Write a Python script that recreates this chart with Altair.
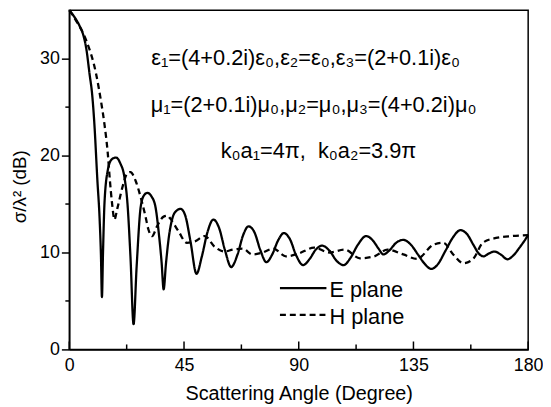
import altair as alt
import pandas as pd

# ---- data ----
series = ["E plane", "H plane"]

E_x = [0, 2, 4, 5.3, 6.8, 7.9, 9, 9.8, 11.0, 11.9, 12.4, 12.8, 13.2, 13.8, 15.1, 16.6, 18.3, 20, 21.6, 22.8,
       24.0, 25.2, 26.4, 28, 29.3, 30.6, 32.2, 33.8, 35.1, 36.2, 37.0, 37.9, 39, 40.3, 42, 43.7, 45.5, 47.5,
       49.9, 52, 54.2, 56.5, 58.8, 61, 63.5, 66, 68.2, 70.3, 72.6, 75, 77.3, 79.6, 82, 84.1, 86.5, 89, 91.7,
       94.2, 96.7, 99.2, 102, 105, 107.6, 110.2, 113.2, 116.4, 119.2, 121.3, 123.2, 125.5, 128.2, 131, 134,
       137, 139.5, 142, 144.6, 147.6, 150.6, 153.4, 156, 158.5, 160.6, 162.5, 164.6, 166.7, 169.2, 171.9,
       174.2, 176.6, 178.5, 180]
E_y = [35, 34.3, 33.4, 32.6, 30.8, 28.5, 26.2, 23.4, 17.5, 13.4, 9.8, 5.4, 9.8, 15.1, 18.5, 19.6, 19.8, 19.2,
       17.8, 15.1, 9.5, 2.6, 8.5, 14.7, 15.9, 16.15, 15.8, 14.7, 12.0, 9, 6.2, 8.8, 11.5, 13.4, 14.3, 14.5,
       13.8, 11.2, 7.8, 9.6, 12.1, 13.4, 12.5, 10.3, 8.5, 9.8, 11.8, 12.7, 12.1, 10.2, 9.0, 9.8, 11.3, 12.0,
       11.4, 9.7, 8.7, 9.3, 10.3, 10.7, 10.2, 9.1, 8.7, 9.4, 10.8, 11.7, 11.2, 10.4, 9.8, 10.2, 11.0, 11.3,
       10.8, 9.7, 8.8, 8.3, 8.8, 10.2, 11.6, 12.3, 11.9, 10.8, 9.9, 9.6, 9.9, 10.1, 9.8, 9.3, 9.7, 10.5,
       11.2, 11.8]

H_x = [0, 2.7, 6.6, 10.45, 12.5, 13.7, 15.1, 15.9, 16.8, 17.7, 18.8, 20.9, 22.8, 24, 26, 28, 29.9, 31, 32.5,
       34.4, 37.0, 38.5, 39.6, 42.8, 46.1, 49.3, 53.1, 57, 60.9, 64.1, 68, 71.9, 75.8, 80, 85, 90, 96, 102,
       108, 114, 119.6, 124.8, 131, 136.4, 142.8, 146.7, 150.6, 154.5, 158.3, 162.2, 167.4, 173.8, 180]
H_y = [35, 33.9, 31.9, 28.5, 25.5, 23.4, 20.2, 17.5, 15, 13.4, 14.5, 16.8, 18.2, 18.3, 17.4, 15.7, 13.7, 12.4,
       11.7, 12.7, 13.7, 13.8, 13.5, 12.2, 11.0, 11.15, 11.7, 10.6, 10.1, 10.3, 10.4, 9.8, 10.0, 10.4, 9.6,
       9.9, 10.5, 10.0, 10.3, 9.4, 9.6, 10.3, 9.8, 9.35, 10.8, 11.0, 9.8, 8.9, 9.3, 11.0, 11.5, 11.7, 11.8]

x_major = [0, 45, 90, 135, 180]
x_minor = [22.5, 67.5, 112.5, 157.5]
y_major = [0, 10, 20, 30]
y_minor = [5, 15, 25]

notes = ["ε₁=(4+0.2i)ε₀,ε₂=ε₀,ε₃=(2+0.1i)ε₀",
         "μ₁=(2+0.1i)μ₀,μ₂=μ₀,μ₃=(4+0.2i)μ₀",
         "k₀a₁=4π,\u00a0\u00a0k₀a₂=3.9π"]

FONT = "Liberation Sans"
W, H = 464, 343

df = pd.concat([
    pd.DataFrame({"angle": E_x, "value": E_y, "series": series[0]}),
    pd.DataFrame({"angle": H_x, "value": H_y, "series": series[1]}),
])

lines = alt.Chart(df).mark_line(color="black", strokeWidth=2.3, interpolate="monotone").encode(
    x=alt.X("angle:Q", scale=alt.Scale(domain=[0, 180], nice=False),
            axis=alt.Axis(values=x_major, ticks=False, labelPadding=7, labelFontSize=18,
                          labelFlush=False,
                          title="Scattering Angle (Degree)", titleFontSize=20, titlePadding=10)),
    y=alt.Y("value:Q", scale=alt.Scale(domain=[0, 35], nice=False),
            axis=alt.Axis(values=y_major, tickSize=8, labelPadding=2, labelFontSize=18,
                          labelFlush=False,
                          title="σ/λ² (dB)", titleFontSize=19, titlePadding=10, titleY=178)),
    strokeDash=alt.StrokeDash("series:N", scale=alt.Scale(domain=series, range=[[1, 0], [6, 4]]),
                              legend=None),
)

xmaj = alt.Chart(pd.DataFrame({"angle": x_major})).mark_rule(color="black", strokeWidth=1.5).encode(
    x="angle:Q", y=alt.value(H), y2=alt.value(H - 8))
xmin = alt.Chart(pd.DataFrame({"angle": x_minor})).mark_rule(color="black", strokeWidth=1.5).encode(
    x="angle:Q", y=alt.value(H), y2=alt.value(H - 5))
ymin = alt.Chart(pd.DataFrame({"value": y_minor})).mark_rule(color="black", strokeWidth=1.5).encode(
    y="value:Q", x=alt.value(0), x2=alt.value(-4))

layers = [lines, xmaj, xmin, ymin]

note_pos = [(239, 55), (247, 103), (252, 149)]
for txt, (px, py) in zip(notes, note_pos):
    layers.append(
        alt.Chart(pd.DataFrame({"txt": [txt]})).mark_text(
            font=FONT, fontSize=22, align="center", baseline="alphabetic", color="black"
        ).encode(text="txt:N", x=alt.value(px), y=alt.value(py))
    )

leg_y = [281, 308]
leg_dash = [[1, 0], [6, 4]]
for name, ly, dash in zip(series, leg_y, leg_dash):
    ldf = pd.DataFrame({"name": [name]})
    layers.append(
        alt.Chart(ldf).mark_rule(color="black", strokeWidth=2.3, strokeDash=dash).encode(
            x=alt.value(213), x2=alt.value(260), y=alt.value(ly))
    )
    layers.append(
        alt.Chart(ldf).mark_text(font=FONT, fontSize=22, align="left", baseline="middle",
                                 color="black").encode(
            text="name:N", x=alt.value(263), y=alt.value(ly + 2))
    )

chart = alt.layer(*layers).properties(
    width=W, height=H,
    background="white",
    autosize=alt.AutoSizeParams(type="none"),
    padding={"left": 62, "top": 0, "right": 15, "bottom": 56},
).configure_view(stroke="black", strokeWidth=1.5).configure_axis(
    labelFont=FONT, titleFont=FONT, labelColor="black", titleColor="black",
    titleFontWeight="normal", domainColor="black", domainWidth=1.5,
    tickColor="black", tickWidth=1.5, grid=False,
)

chart.save("out.html", embed_options={"renderer": "svg", "actions": False})
